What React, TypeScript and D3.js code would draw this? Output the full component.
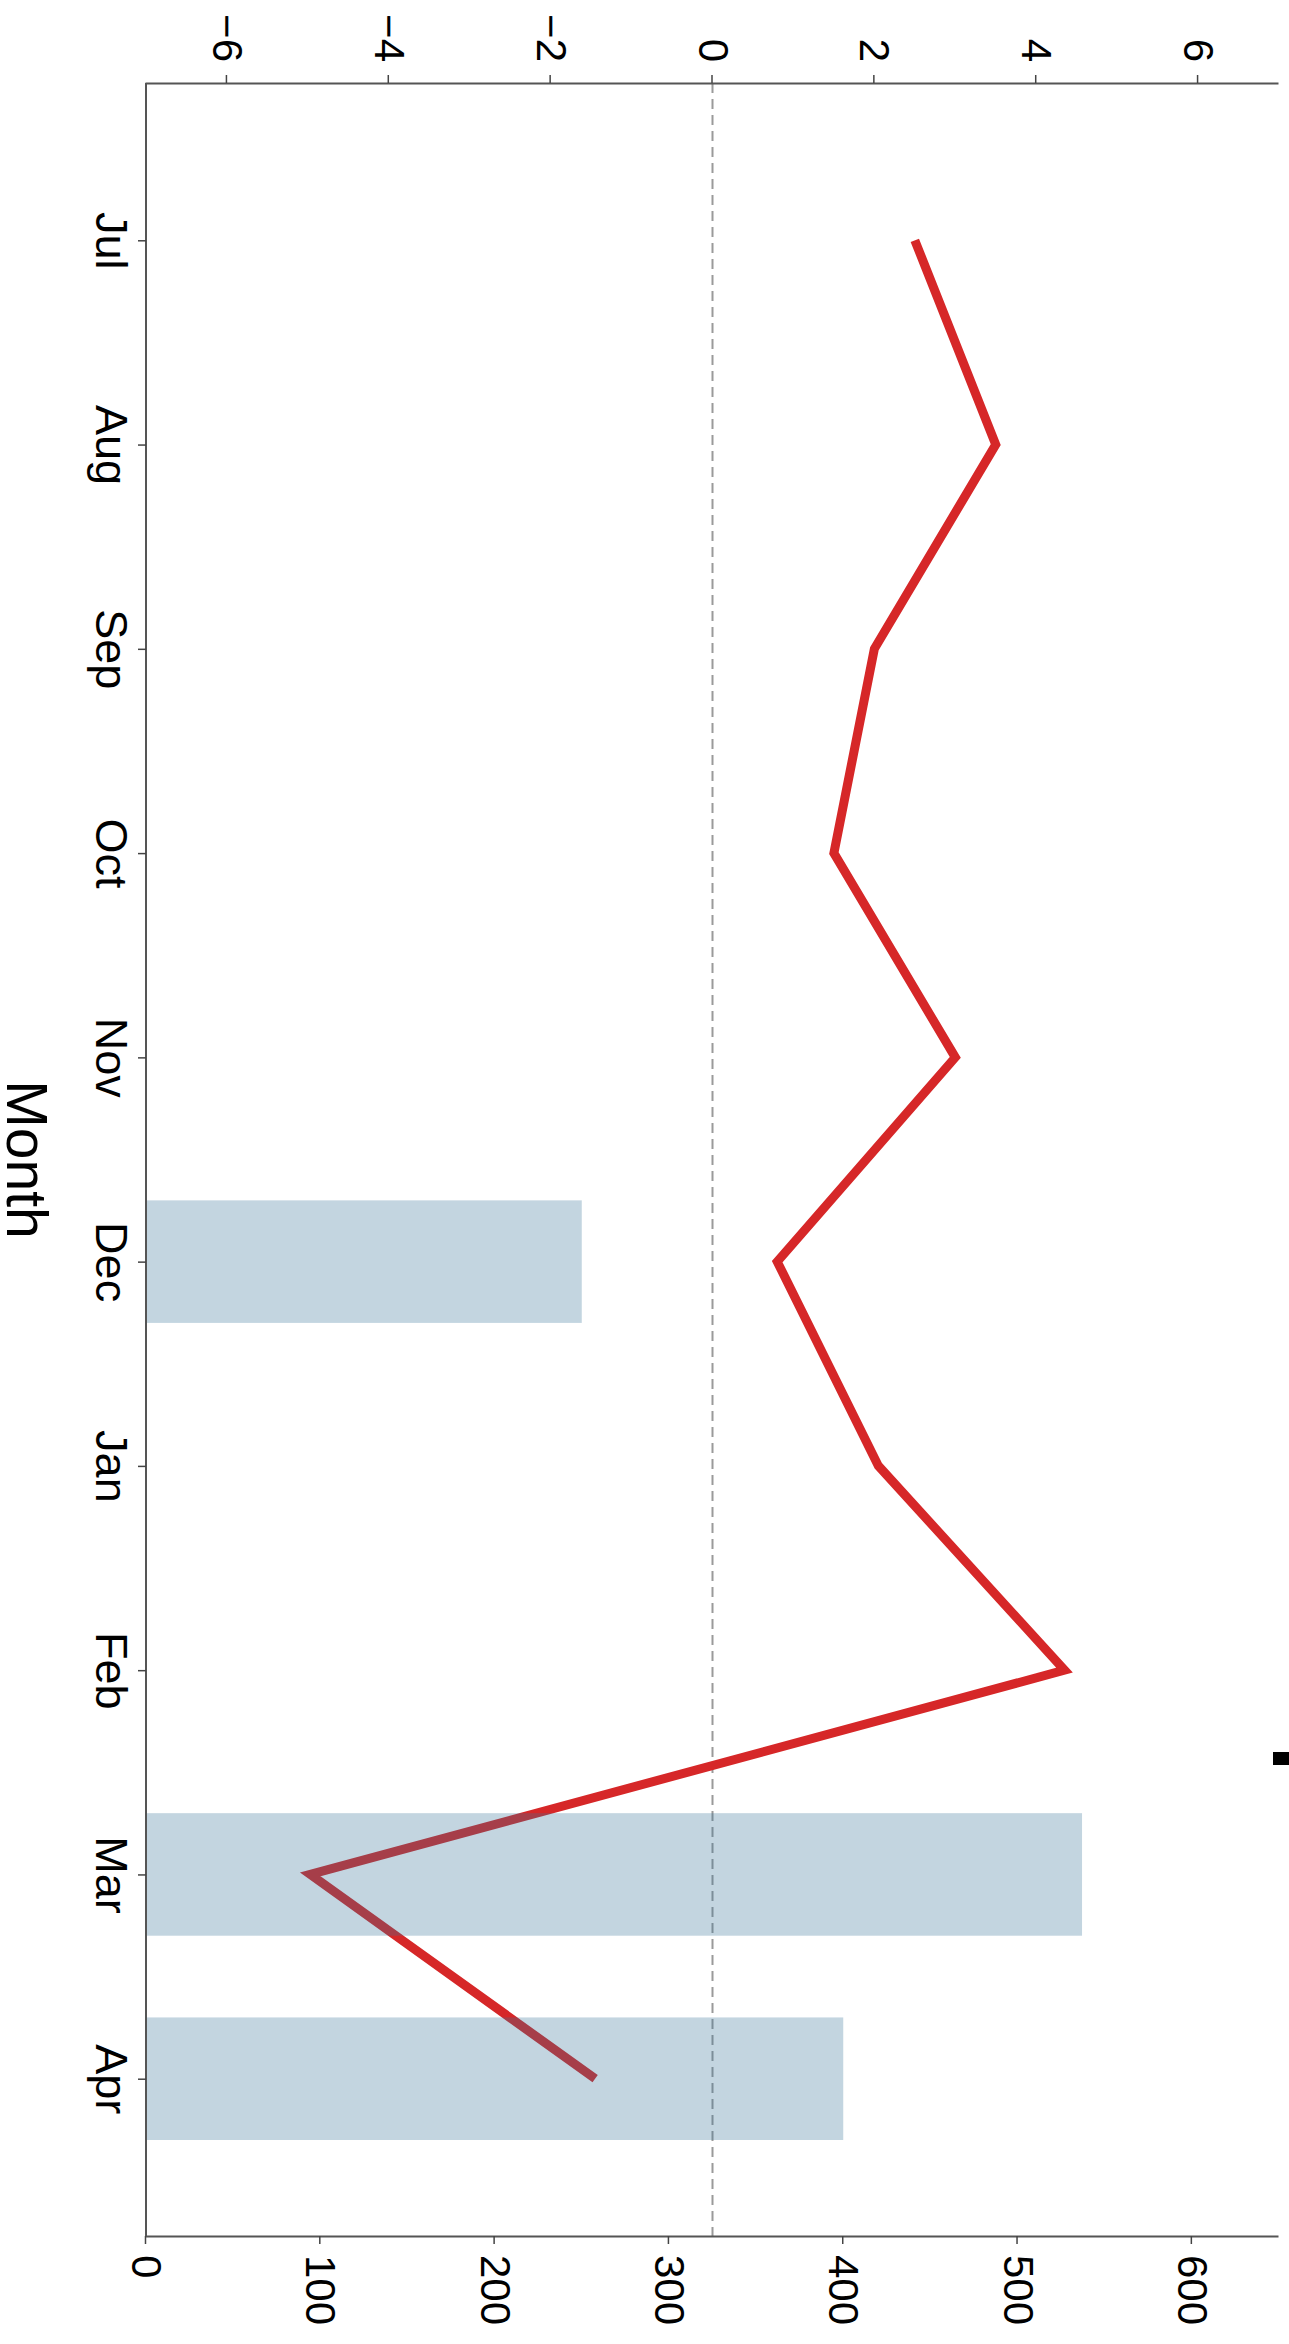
import React, { useEffect, useRef } from "react";
import * as d3 from "d3";

const months = ["Jul", "Aug", "Sep", "Oct", "Nov", "Dec", "Jan", "Feb", "Mar", "Apr"];
const lineValues = [2.5, 3.5, 2.0, 1.5, 3.0, 0.8, 2.05, 4.35, -4.97, -1.45];
const barValues: (number | null)[] = [null, null, null, null, null, 250, null, null, 537, 400];
const lineTicks = [-6, -4, -2, 0, 2, 4, 6];
const barTicks = [0, 100, 200, 300, 400, 500, 600];
const lineDomain = [-7, 7];
const barDomain = [0, 650];
const xTitle = "Month";

const W = 1289;
const H = 2344;
const FONT = "'Liberation Sans', Arial, Helvetica, sans-serif";

export default function App() {
  const ref = useRef<SVGSVGElement | null>(null);

  useEffect(() => {
    const svg = d3.select(ref.current);
    svg.selectAll("*").remove();
    // Chart is drawn in its original (landscape) orientation and rotated 90° clockwise.
    const g = svg.append("g").attr("transform", `translate(${W},0) rotate(90)`);

    const left = 83;
    const right = 2236;
    const top = 10;
    const bottom = 1143;

    const x = d3.scalePoint<string>().domain(months).range([left, right]).padding(0.77);
    const step = x.step();
    const bw = step * 0.6;
    const yLine = d3.scaleLinear().domain(lineDomain).range([bottom, top]);
    const yBar = d3.scaleLinear().domain(barDomain).range([bottom, top]);

    // zero dashed line
    g.append("line")
      .attr("x1", left)
      .attr("x2", right)
      .attr("y1", yLine(0))
      .attr("y2", yLine(0))
      .attr("stroke", "#9a9a9a")
      .attr("stroke-width", 2)
      .attr("stroke-dasharray", "10,6");

    // line series
    const line = d3
      .line<number>()
      .x((_, i) => x(months[i]) as number)
      .y((d) => yLine(d));
    g.append("path")
      .datum(lineValues)
      .attr("d", line)
      .attr("fill", "none")
      .attr("stroke", "#d62728")
      .attr("stroke-width", 9)
      .attr("stroke-linejoin", "miter")
      .attr("stroke-linecap", "butt");

    // bars (semi-transparent, drawn over the line)
    const barData = months
      .map((m, i) => ({ m, v: barValues[i] }))
      .filter((d) => d.v !== null) as { m: string; v: number }[];
    g.selectAll("rect.bar")
      .data(barData)
      .enter()
      .append("rect")
      .attr("class", "bar")
      .attr("x", (d) => (x(d.m) as number) - bw / 2)
      .attr("width", bw)
      .attr("y", (d) => yBar(d.v))
      .attr("height", (d) => yBar(0) - yBar(d.v))
      .attr("fill", "rgb(57,115,152)")
      .attr("fill-opacity", 0.3);

    const styleAxis = (sel: any, fontSize: number) => {
      sel.select(".domain").attr("stroke", "#555").attr("stroke-width", 2);
      sel.selectAll(".tick line").attr("stroke", "#444").attr("stroke-width", 1.5);
      sel
        .selectAll(".tick text")
        .attr("fill", "#000")
        .style("font-family", FONT)
        .style("font-size", fontSize + "px");
    };

    const aL = g
      .append("g")
      .attr("transform", `translate(${left},0)`)
      .call(d3.axisLeft(yLine).tickValues(lineTicks).tickSize(8).tickSizeOuter(0).tickPadding(13));
    styleAxis(aL, 42);

    const aR = g
      .append("g")
      .attr("transform", `translate(${right},0)`)
      .call(d3.axisRight(yBar).tickValues(barTicks).tickSize(8).tickSizeOuter(0).tickPadding(11));
    styleAxis(aR, 42);

    const aB = g
      .append("g")
      .attr("transform", `translate(0,${bottom})`)
      .call(d3.axisBottom(x).tickSize(8).tickSizeOuter(0).tickPadding(10));
    aB.select(".domain").attr("d", `M${left},0H${right}`);
    styleAxis(aB, 45);

    g.append("text")
      .attr("x", (left + right) / 2)
      .attr("y", 1282)
      .attr("text-anchor", "middle")
      .style("font-family", FONT)
      .style("font-size", "57px")
      .attr("fill", "#000")
      .text(xTitle);

    svg
      .append("rect")
      .attr("x", 1273)
      .attr("y", 1752)
      .attr("width", 16)
      .attr("height", 13)
      .attr("fill", "#000");
  }, []);

  return (
    <svg
      ref={ref}
      width={W}
      height={H}
      style={{ position: "absolute", left: 0, top: 0, display: "block", background: "#fff" }}
    />
  );
}
